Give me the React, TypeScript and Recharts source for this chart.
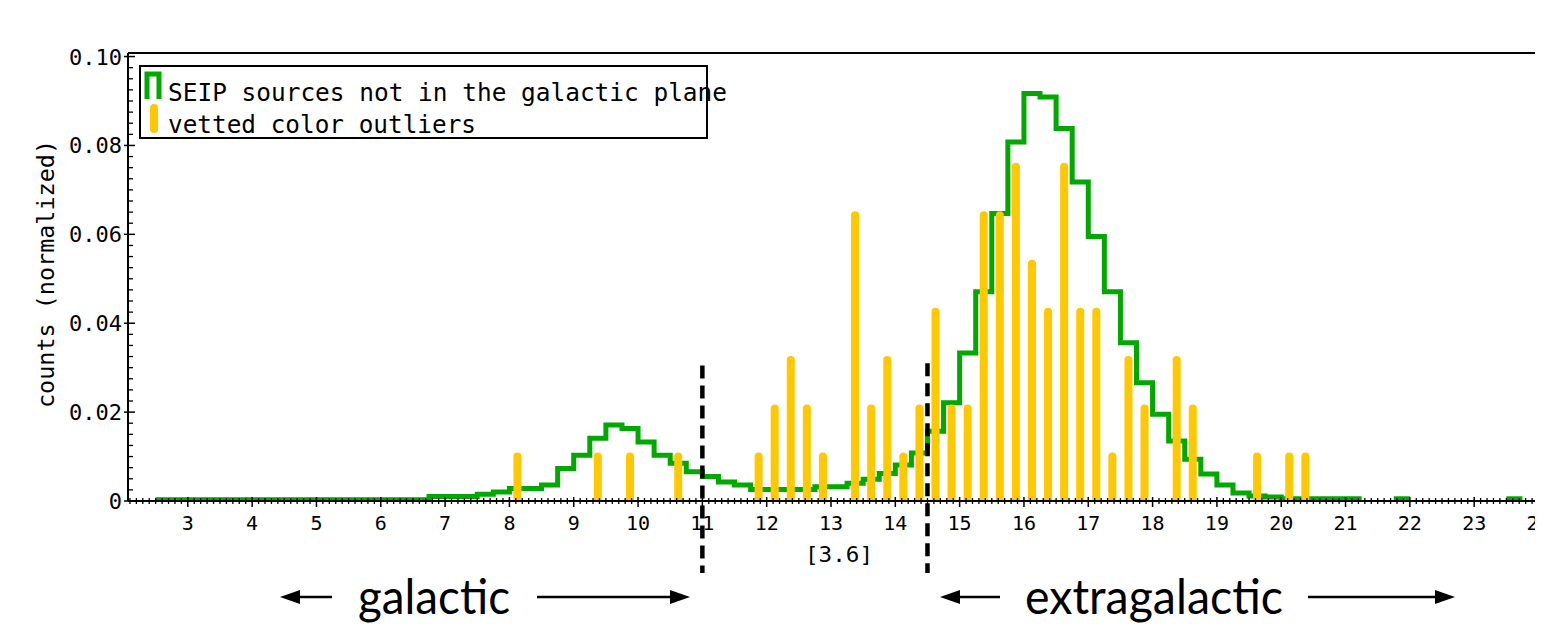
import React from 'react';
import { ComposedChart, Line, Bar, XAxis, YAxis, ReferenceLine } from 'recharts';

const GREEN = '#00a800';
const YELLOW = '#ffc800';
const MONO = '"DejaVu Sans Mono", "Liberation Mono", monospace';
const SANS = 'Lato, "Open Sans", sans-serif';

// SEIP sources not in the galactic plane: histogram, left bin edges + normalized counts
const seipEdges = [
  2.5, 6.75, 7.5, 7.75, 8.0, 8.25, 8.5, 8.75, 9.0, 9.25, 9.5, 9.75, 10.0, 10.25, 10.5, 10.75,
  11.0, 11.25, 11.5, 11.75, 12.0, 12.25, 12.5, 12.75, 13.0, 13.25, 13.5, 13.75, 14.0, 14.25,
  14.5, 14.75, 15.0, 15.25, 15.5, 15.75, 16.0, 16.25, 16.5, 16.75, 17.0, 17.25, 17.5, 17.75,
  18.0, 18.25, 18.5, 18.75, 19.0, 19.25, 19.5, 19.75, 20.0,
];
const seipValues = [
  0.0003, 0.001, 0.0015, 0.002, 0.0028, 0.0028, 0.0036, 0.0073, 0.0103, 0.0141, 0.0171, 0.0163,
  0.0133, 0.0103, 0.0085, 0.0066, 0.0055, 0.0043, 0.0036, 0.0026, 0.0026, 0.0026, 0.0026, 0.0032,
  0.0032, 0.004, 0.0049, 0.0062, 0.0081, 0.0108, 0.0157, 0.0221, 0.0333, 0.0471, 0.0647, 0.0808,
  0.0917, 0.0909, 0.0838, 0.0718, 0.0595, 0.0471, 0.0356, 0.0266, 0.0195, 0.0135, 0.0094, 0.0061,
  0.0036, 0.0018, 0.0011, 0.0009, 0.0005,
];
const seipEnd = 21.25;
const seipEdges2 = [21.75];
const seipValues2 = [0.0005];
const seipEnd2 = 22.0;
const seipEdges3 = [23.5];
const seipValues3 = [0.0005];
const seipEnd3 = 23.75;

// vetted color outliers
const outlierX = [
  8.125, 9.375, 9.875, 10.625, 11.875, 12.125, 12.375, 12.625, 12.875, 13.375, 13.625, 13.875,
  14.125, 14.375, 14.625, 14.875, 15.125, 15.375, 15.625, 15.875, 16.125, 16.375, 16.625, 16.875,
  17.125, 17.375, 17.625, 17.875, 18.375, 18.625, 19.625, 20.125, 20.375,
];
const outlierValues = [
  0.0109, 0.0109, 0.0109, 0.0109, 0.0109, 0.0217, 0.0326, 0.0217, 0.0109, 0.0652, 0.0217, 0.0326,
  0.0109, 0.0217, 0.0435, 0.0217, 0.0217, 0.0652, 0.0652, 0.0761, 0.0543, 0.0435, 0.0761, 0.0435,
  0.0435, 0.0109, 0.0326, 0.0217, 0.0326, 0.0217, 0.0109, 0.0109, 0.0109,
];

const xMajorTicks = [3, 4, 5, 6, 7, 8, 9, 10, 11, 12, 13, 14, 15, 16, 17, 18, 19, 20, 21, 22, 23, 24];
const yMajorTicks = [0, 0.02, 0.04, 0.06, 0.08, 0.1];
const yMajorLabels = ['0', '0.02', '0.04', '0.06', '0.08', '0.10'];
const xDomain = [2.07, 24.07];
const yDomain = [0, 0.1008];
const dividerX = [11.0, 14.5];
const dividerTop = [0.0305, 0.031];

// minor ticks every 0.1 (x) and 0.0025 (y)
const xTicks: number[] = [];
for (let k = 21; k <= 240; k++) xTicks.push(k / 10);
const yTicks: number[] = [];
for (let k = 0; k <= 40; k++) yTicks.push((k * 25) / 10000);

type Row = { x: number; g1?: number; g2?: number; g3?: number; v?: number };
const rowMap = new Map<number, Row>();
const getRow = (x: number) => {
  if (!rowMap.has(x)) rowMap.set(x, { x });
  return rowMap.get(x)!;
};
const addRun = (key: 'g1' | 'g2' | 'g3', edges: number[], values: number[], end: number) => {
  edges.forEach((e, i) => {
    getRow(e)[key] = values[i];
  });
  getRow(end)[key] = values[values.length - 1];
};
addRun('g1', seipEdges, seipValues, seipEnd);
addRun('g2', seipEdges2, seipValues2, seipEnd2);
addRun('g3', seipEdges3, seipValues3, seipEnd3);
outlierX.forEach((x, i) => {
  getRow(x).v = outlierValues[i];
});
const rows = Array.from(rowMap.values()).sort((a, b) => a.x - b.x);

const XTick = (props: any) => {
  const { x, y, payload } = props;
  const val = payload.value as number;
  const major = xMajorTicks.some((t) => Math.abs(t - val) < 1e-6);
  if (!major) {
    return <line x1={x} y1={y - 3} x2={x} y2={y + 3} stroke="#000" strokeWidth={1.3} />;
  }
  return (
    <g>
      <line x1={x} y1={y - 4} x2={x} y2={y + 6} stroke="#000" strokeWidth={1.5} />
      <text x={x} y={y + 29} textAnchor="middle" fontFamily={MONO} fontSize={20} fill="#000">
        {String(Math.round(val))}
      </text>
    </g>
  );
};

const YTick = (props: any) => {
  const { x, y, payload } = props;
  const val = payload.value as number;
  const idx = yMajorTicks.findIndex((t) => Math.abs(t - val) < 1e-9);
  if (idx < 0) {
    return <line x1={x} y1={y} x2={x + 5} y2={y} stroke="#000" strokeWidth={1.3} />;
  }
  return (
    <g>
      <line x1={x - 4} y1={y} x2={x + 7} y2={y} stroke="#000" strokeWidth={1.5} />
      <text x={x - 6} y={y + 8} textAnchor="end" fontFamily={MONO} fontSize={22} fill="#000">
        {yMajorLabels[idx]}
      </text>
    </g>
  );
};

const OutlierBar = (props: any) => {
  const { x, y, width, height } = props;
  if (!height || height <= 0 || !Number.isFinite(y)) return null;
  const w = 8;
  const cx = x + width / 2;
  const r = w / 2;
  const top = y;
  const bottom = y + height;
  const d = `M ${cx - r} ${bottom} V ${top + r} A ${r} ${r} 0 0 1 ${cx + r} ${top + r} V ${bottom} Z`;
  return <path d={d} fill={YELLOW} />;
};

const makeDivider = (ext: number) => (props: any) => {
  const { x1, y1, y2 } = props;
  const top = Math.min(y1, y2);
  const bottom = Math.max(y1, y2);
  return (
    <line x1={x1} y1={top} x2={x1} y2={bottom + ext} stroke="#000" strokeWidth={4.5} strokeDasharray="13 7" />
  );
};

const Arrow = ({ x1, x2, y }: { x1: number; x2: number; y: number }) => {
  const dir = x2 > x1 ? 1 : -1;
  const head = 20;
  return (
    <g>
      <line x1={x1} y1={y} x2={x2 - dir * head * 0.8} y2={y} stroke="#000" strokeWidth={2.5} />
      <polygon points={`${x2},${y} ${x2 - dir * head},${y - 7} ${x2 - dir * head},${y + 7}`} fill="#000" />
    </g>
  );
};

export default function App() {
  return (
    <div style={{ position: 'relative', width: 1535, height: 619, background: '#fff' }}>
      <ComposedChart width={1535} height={619} data={rows} margin={{ top: 45, right: 0, left: 0, bottom: 96 }}>
        <XAxis
          dataKey="x"
          type="number"
          domain={xDomain}
          ticks={xTicks}
          interval={0}
          allowDataOverflow
          height={30}
          tickSize={0}
          tickMargin={0}
          tickLine={false}
          tick={<XTick />}
          axisLine={{ stroke: '#000', strokeWidth: 2 }}
        />
        <YAxis
          type="number"
          domain={yDomain}
          ticks={yTicks}
          interval={0}
          allowDataOverflow
          width={120}
          tickSize={0}
          tickMargin={0}
          tickLine={false}
          tick={<YTick />}
          axisLine={{ stroke: '#000', strokeWidth: 2 }}
        />
        <ReferenceLine y={yDomain[1]} stroke="#000" strokeWidth={2} ifOverflow="visible" />
        <Line type="stepAfter" dataKey="g1" stroke={GREEN} strokeWidth={5} dot={false} connectNulls isAnimationActive={false} zIndex={350} />
        <Line type="stepAfter" dataKey="g2" stroke={GREEN} strokeWidth={5} dot={false} connectNulls isAnimationActive={false} zIndex={350} />
        <Line type="stepAfter" dataKey="g3" stroke={GREEN} strokeWidth={5} dot={false} connectNulls isAnimationActive={false} zIndex={350} />
        <Bar dataKey="v" fill={YELLOW} barSize={8} shape={<OutlierBar />} isAnimationActive={false} zIndex={450} />
        {dividerX.map((dx, i) => (
          <ReferenceLine
            key={i}
            segment={[{ x: dx, y: dividerTop[i] }, { x: dx, y: 0 }]}
            ifOverflow="visible"
            shape={makeDivider(72)}
            zIndex={600}
          />
        ))}
      </ComposedChart>
      <svg
        width={1535}
        height={619}
        style={{ position: 'absolute', left: 0, top: 0, pointerEvents: 'none' }}
      >
        {/* legend */}
        <rect x={132} y={58} width={567} height={72} fill="#fff" stroke="#000" strokeWidth={2} />
        <path d="M 139 91 V 66 H 151 V 91" fill="none" stroke={GREEN} strokeWidth={5} />
        <rect x={142} y={96} width={8} height={29} rx={4} fill={YELLOW} />
        <text x={160} y={93} fontFamily={MONO} fontSize={24} textLength={559} lengthAdjust="spacingAndGlyphs" fill="#000">
          SEIP sources not in the galactic plane
        </text>
        <text x={160} y={125} fontFamily={MONO} fontSize={24} textLength={308} lengthAdjust="spacingAndGlyphs" fill="#000">
          vetted color outliers
        </text>
        {/* y axis label */}
        <text
          x={0}
          y={0}
          transform="translate(46 266) rotate(-90)"
          textAnchor="middle"
          fontFamily={MONO}
          fontSize={23}
          textLength={268}
          lengthAdjust="spacingAndGlyphs"
          fill="#000"
        >
          counts (normalized)
        </text>
        {/* x axis label */}
        <text x={831} y={554} textAnchor="middle" fontFamily={MONO} fontSize={21} textLength={68} lengthAdjust="spacingAndGlyphs" fill="#000">
          [3.6]
        </text>
        {/* annotations */}
        <Arrow x1={324} x2={272} y={589} />
        <text x={350} y={606} fontFamily={SANS} fontSize={48} textLength={152} lengthAdjust="spacingAndGlyphs" fill="#000">
          galactic
        </text>
        <Arrow x1={529} x2={682} y={589} />
        <Arrow x1={992} x2={932} y={589} />
        <text x={1017} y={606} fontFamily={SANS} fontSize={48} textLength={258} lengthAdjust="spacingAndGlyphs" fill="#000">
          extragalactic
        </text>
        <Arrow x1={1300} x2={1447} y={589} />
      </svg>
    </div>
  );
}
